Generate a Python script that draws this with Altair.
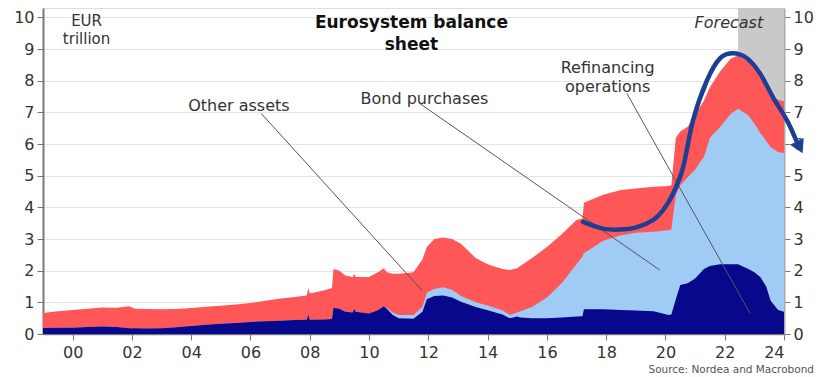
import altair as alt
import pandas as pd

# ---- data (EUR trillion) ----
years = [1999.0, 1999.5, 2000.0, 2000.5, 2001.0, 2001.5, 2001.9, 2002.1, 2002.5, 2003.0,
         2003.5, 2004.0, 2004.5, 2005.0, 2005.5, 2006.0, 2006.5, 2007.0, 2007.5, 2007.9,
         2007.95, 2008.0, 2008.5, 2008.75, 2008.8, 2009.0, 2009.2, 2009.45, 2009.5, 2009.55,
         2010.0, 2010.3, 2010.5, 2010.6, 2010.8, 2011.0, 2011.5, 2011.8, 2011.95, 2012.2,
         2012.5, 2012.8, 2013.1, 2013.6, 2014.0, 2014.5, 2014.75, 2015.0, 2015.1, 2015.5,
         2016.0, 2016.5, 2017.0, 2017.2, 2017.25, 2017.9, 2018.5, 2019.0, 2019.6, 2020.1,
         2020.2, 2020.35, 2020.5, 2020.75, 2021.0, 2021.3, 2021.5, 2021.85, 2022.2, 2022.45,
         2022.8, 2023.0, 2023.2, 2023.4, 2023.55, 2023.8, 2024.0]
# top of the "Refinancing operations" layer (navy, bottom)
refinancing = [0.19, 0.20, 0.20, 0.22, 0.24, 0.22, 0.18, 0.18, 0.17, 0.18,
               0.21, 0.25, 0.29, 0.32, 0.35, 0.38, 0.40, 0.42, 0.44, 0.45,
               0.60, 0.45, 0.46, 0.47, 0.82, 0.80, 0.70, 0.68, 0.80, 0.70,
               0.65, 0.75, 0.88, 0.80, 0.60, 0.50, 0.48, 0.70, 1.10, 1.20,
               1.22, 1.15, 1.02, 0.85, 0.75, 0.62, 0.50, 0.55, 0.52, 0.50,
               0.50, 0.52, 0.55, 0.56, 0.78, 0.78, 0.76, 0.74, 0.72, 0.60,
               0.62, 1.10, 1.55, 1.60, 1.75, 2.05, 2.15, 2.20, 2.20, 2.20,
               2.05, 1.95, 1.80, 1.50, 1.05, 0.76, 0.70]
# top of the "Bond purchases" layer (light blue, middle)
bonds_top = [0.19, 0.20, 0.20, 0.22, 0.24, 0.22, 0.18, 0.18, 0.17, 0.18,
             0.21, 0.25, 0.29, 0.32, 0.35, 0.38, 0.40, 0.42, 0.44, 0.45,
             0.60, 0.45, 0.46, 0.47, 0.82, 0.80, 0.70, 0.68, 0.80, 0.70,
             0.65, 0.75, 0.88, 0.83, 0.68, 0.60, 0.60, 0.85, 1.30, 1.42,
             1.48, 1.40, 1.20, 1.00, 0.90, 0.75, 0.60, 0.68, 0.72, 0.85,
             1.15, 1.60, 2.20, 2.45, 2.55, 2.95, 3.12, 3.20, 3.23, 3.28,
             3.30, 4.40, 4.70, 4.95, 5.20, 5.60, 6.20, 6.55, 6.95, 7.12,
             6.90, 6.65, 6.35, 6.10, 5.90, 5.75, 5.72]
# total balance sheet, top of the "Other assets" layer (red)
total = [0.66, 0.72, 0.76, 0.80, 0.84, 0.83, 0.88, 0.80, 0.79, 0.78,
         0.79, 0.82, 0.86, 0.89, 0.93, 0.98, 1.05, 1.12, 1.17, 1.22,
         1.45, 1.28, 1.38, 1.45, 2.05, 2.00, 1.85, 1.80, 1.90, 1.80,
         1.80, 1.95, 2.08, 1.95, 1.90, 1.90, 1.95, 2.35, 2.75, 3.00,
         3.05, 3.00, 2.85, 2.40, 2.20, 2.05, 2.02, 2.08, 2.15, 2.40,
         2.75, 3.15, 3.60, 3.65, 4.15, 4.40, 4.55, 4.60, 4.65, 4.68,
         4.70, 6.20, 6.40, 6.55, 6.90, 7.38, 7.80, 8.30, 8.70, 8.80,
         8.60, 8.40, 8.10, 7.80, 7.50, 7.40, 7.35]

# hand-drawn trend curve
curve_years = [2017.22, 2017.88, 2018.46, 2019.02, 2019.58, 2019.92, 2020.26, 2020.60, 2020.93,
               2021.40, 2021.84, 2022.28, 2022.75, 2023.19, 2023.63, 2024.10, 2024.41]
curve_vals = [3.54, 3.33, 3.30, 3.37, 3.60, 3.91, 4.44, 5.28, 6.75,
              8.01, 8.71, 8.87, 8.71, 8.23, 7.48, 6.75, 6.12]
arrow_year = [2024.53]
arrow_val = [5.90]

# forecast band
forecast_start = [2022.45]
forecast_end = [2024.0]

# annotations
ann_labels = ["Other assets", "Bond purchases", "Refinancing", "operations"]
ann_x = [2005.61, 2011.87, 2018.05, 2018.05]
ann_y = [7.19, 7.41, 8.39, 7.79]
lead_x1 = [2006.36, 2011.70, 2018.70]
lead_y1 = [6.97, 7.29, 7.60]
lead_x2 = [2011.80, 2019.81, 2022.85]
lead_y2 = [1.36, 2.02, 0.66]

x_ticks = list(range(2000, 2025, 2))
y_ticks = list(range(0, 11))

FONT = "DejaVu Sans"
YMAX = 10.3

df = pd.DataFrame({"year": years, "refi": refinancing, "bonds": bonds_top, "total": total})
curve_df = pd.DataFrame({"year": curve_years, "val": curve_vals, "ord": list(range(len(curve_years)))})
arrow_df = pd.DataFrame({"year": arrow_year, "val": arrow_val})
band_df = pd.DataFrame({"x1": forecast_start, "x2": forecast_end, "y1": [0.0], "y2": [YMAX]})
ann_df = pd.DataFrame({"label": ann_labels, "x": ann_x, "y": ann_y})
lead_df = pd.DataFrame({"x1": lead_x1, "y1": lead_y1, "x2": lead_x2, "y2": lead_y2})

xscale = alt.Scale(domain=[1999, 2024], nice=False, zero=False)
yscale = alt.Scale(domain=[0, YMAX], nice=False)

xaxis = alt.Axis(values=x_ticks, labelExpr="slice(toString(datum.value), 2)", title=None,
                 grid=False, domainColor="#777777", domainWidth=1.5, tickColor="#777777",
                 tickSize=6, labelFontSize=16, labelColor="#333333", labelFont=FONT,
                 labelPadding=4)
yaxis_left = alt.Axis(values=y_ticks, orient="left", title=None, grid=True,
                      gridColor="#e4e4e4", gridWidth=1, domainColor="#777777", domainWidth=2,
                      tickColor="#777777", tickSize=6, labelFontSize=16, labelColor="#333333",
                      labelFont=FONT, labelPadding=3)
yaxis_right = alt.Axis(values=y_ticks, orient="right", title=None, grid=False,
                       domainColor="#aaaaaa", domainWidth=2, tickColor="#777777", tickSize=6,
                       labelFontSize=16, labelColor="#333333", labelFont=FONT, labelPadding=3)


def X(field):
    return alt.X(f"{field}:Q", scale=xscale, axis=xaxis)


def Y(field, axis=None):
    return alt.Y(f"{field}:Q", scale=yscale, axis=axis)


band = alt.Chart(band_df).mark_rect(color="#c9c9c9").encode(
    x=X("x1"), x2="x2:Q", y=Y("y1"), y2="y2:Q")

red = alt.Chart(df).mark_area(color="#ff5757", interpolate="linear").encode(
    x=X("year"), y=Y("total", yaxis_left))
light = alt.Chart(df).mark_area(color="#9fcbf4", interpolate="linear").encode(
    x=X("year"), y=Y("bonds", yaxis_right))
navy = alt.Chart(df).mark_area(color="#08088c", interpolate="linear").encode(
    x=X("year"), y=Y("refi"))

leads = alt.Chart(lead_df).mark_rule(color="#555555", strokeWidth=1).encode(
    x=X("x1"), y=Y("y1"), x2="x2:Q", y2="y2:Q")

ann = alt.Chart(ann_df).mark_text(font=FONT, fontSize=16, color="#333333",
                                  align="center", baseline="middle").encode(
    x=X("x"), y=Y("y"), text="label:N")

title_df = pd.DataFrame({"label": ["Eurosystem balance", "sheet"],
                         "x": [2011.43, 2011.43], "y": [9.83, 9.14]})
title = alt.Chart(title_df).mark_text(font=FONT, fontSize=17, fontWeight="bold",
                                      color="#111111", align="center", baseline="middle").encode(
    x=X("x"), y=Y("y"), text="label:N")

unit_df = pd.DataFrame({"label": ["EUR", "trillion"], "x": [2000.47, 2000.47], "y": [9.9, 9.31]})
unit = alt.Chart(unit_df).mark_text(font=FONT, fontSize=15, color="#333333",
                                    align="center", baseline="middle").encode(
    x=X("x"), y=Y("y"), text="label:N")

fc_df = pd.DataFrame({"label": ["Forecast"], "x": [2022.14], "y": [9.84]})
fc = alt.Chart(fc_df).mark_text(font=FONT, fontSize=16, fontStyle="italic", color="#333333",
                                align="center", baseline="middle").encode(
    x=X("x"), y=Y("y"), text="label:N")

curve = alt.Chart(curve_df).mark_line(color="#1c3f94", strokeWidth=4.5, interpolate="cardinal",
                                      strokeCap="round", clip=False).encode(
    x=X("year"), y=Y("val"), order="ord:Q")
arrow = alt.Chart(arrow_df).mark_point(shape="triangle-up", filled=True, color="#1c3f94",
                                       opacity=1, size=230, angle=154, clip=False).encode(
    x=X("year"), y=Y("val"))

src_df = pd.DataFrame({"label": ["Source: Nordea and Macrobond"]})
src = alt.Chart(src_df).mark_text(font=FONT, fontSize=10.5, color="#555555", align="right",
                                  baseline="middle").encode(
    x=alt.value(771), y=alt.value(362), text="label:N")

chart = alt.layer(band, red, light, navy, leads, ann, title, unit, fc, curve, arrow, src).resolve_axis(
    y="independent"
).properties(
    width=741, height=326,
    autosize=alt.AutoSizeParams(type="none"),
    padding={"left": 43, "top": 8, "right": 35, "bottom": 43},
).configure_view(stroke=None).configure(background="white")

chart.save("out.html", embed_options={"renderer": "svg", "actions": False})
